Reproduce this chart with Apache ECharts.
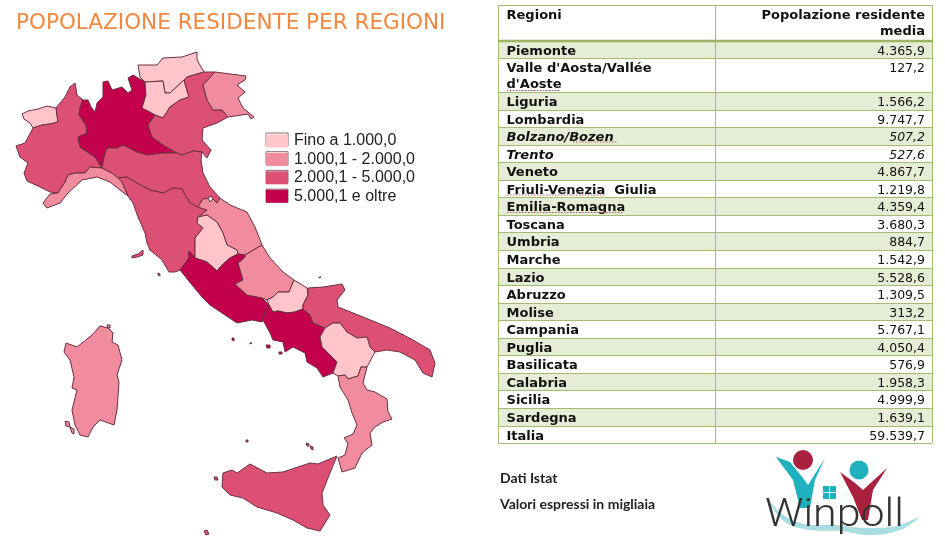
<!DOCTYPE html>
<html>
<head>
<meta charset="utf-8">
<title>Popolazione residente per regioni</title>
<style>html,body{margin:0;padding:0;background:#fff}#chart{width:945px;height:550px}</style>
<script src="https://cdn.jsdelivr.net/npm/echarts@6/dist/echarts.min.js"></script>
</head>
<body>
<div id="chart"></div>
<script>
// dati Istat, valori in migliaia
var regioni = ["Piemonte", "Valle d'Aosta/Vallée d'Aoste", "Liguria", "Lombardia", "Bolzano/Bozen", "Trento",
  "Veneto", "Friuli-Venezia  Giulia", "Emilia-Romagna", "Toscana", "Umbria", "Marche", "Lazio", "Abruzzo",
  "Molise", "Campania", "Puglia", "Basilicata", "Calabria", "Sicilia", "Sardegna", "Italia"];
var popolazione = [4365.9, 127.2, 1566.2, 9747.7, 507.2, 527.6, 4867.7, 1219.8, 4359.4, 3680.3, 884.7, 1542.9,
  5528.6, 1309.5, 313.2, 5767.1, 4050.4, 576.9, 1958.3, 4999.9, 1639.1, 59539.7];
var classi = ["Fino a 1.000,0", "1.000,1 - 2.000,0", "2.000,1 - 5.000,0", "5.000,1 e oltre"];
var sogli = [1000, 2000, 5000];
var coloriClassi = ["#FFC5CA", "#F08C9D", "#DB5073", "#C2004B"];
var corsivi = ["Bolzano/Bozen", "Trento"];

// contorni delle regioni ricalcati dalla carta (x, y sulla pagina)
var contorni = {
  "Valle d'Aosta/Vallée d'Aoste": [[[22,114],[28,111],[38,109],[47,106],[56,108],[58,122],[50,124],[42,125],[33,128],[30,123],[24,119]]],
  "Piemonte": [[[33,128],[42,125],[50,124],[58,122],[56,108],[65,97],[70,87],[75,83],[77,95],[83,100],[80,108],[79,115],[86,125],[87,133],[78,137],[80,147],[95,157],[102,168],[90,167],[85,173],[75,173],[68,175],[65,182],[58,193],[50,192],[40,187],[27,181],[24,173],[28,163],[20,157],[16,146],[25,143]]],
  "Lombardia": [[[83,100],[88,100],[91,107],[95,112],[97,103],[103,97],[103,82],[108,81],[112,90],[122,87],[128,93],[132,90],[128,78],[133,75],[145,82],[146,95],[142,108],[150,112],[155,115],[148,125],[152,137],[163,145],[177,153],[163,153],[147,155],[137,152],[123,145],[117,148],[107,148],[104,157],[102,168],[95,157],[80,147],[78,137],[87,133],[86,125],[79,115],[80,108]]],
  "Bolzano/Bozen": [[[138,65],[157,65],[163,58],[182,57],[197,52],[197,60],[204,72],[187,77],[184,80],[170,93],[165,93],[163,81],[145,82],[140,77]]],
  "Trento": [[[145,82],[163,81],[165,93],[170,93],[184,80],[189,97],[180,100],[170,107],[163,118],[155,115],[150,112],[142,108],[146,95]]],
  "Veneto": [[[184,80],[187,77],[204,72],[215,72],[203,85],[207,100],[213,110],[222,110],[228,117],[217,123],[203,128],[202,140],[211,150],[207,158],[202,152],[193,151],[182,155],[177,153],[163,145],[152,137],[148,125],[155,115],[163,118],[170,107],[180,100],[189,97]]],
  "Friuli-Venezia  Giulia": [[[215,72],[246,76],[245,80],[237,85],[245,92],[238,98],[243,108],[254,117],[251,119],[248,114],[242,115],[228,117],[222,110],[213,110],[207,100],[203,85]]],
  "Liguria": [[[102,168],[90,167],[85,173],[75,173],[68,175],[65,182],[58,193],[50,194],[43,203],[47,208],[60,203],[68,193],[82,180],[97,177],[110,182],[120,190],[128,196],[122,182],[118,178],[112,173]]],
  "Emilia-Romagna": [[[102,168],[104,157],[107,148],[117,148],[123,145],[137,152],[147,155],[163,153],[177,153],[182,155],[193,151],[202,152],[201,160],[203,173],[210,187],[220,198],[217,203],[212,198],[203,199],[198,207],[190,203],[185,195],[182,189],[173,188],[163,193],[150,190],[137,183],[127,177],[118,178],[112,173]]],
  "Toscana": [[[118,178],[127,177],[137,183],[150,190],[163,193],[173,188],[182,189],[185,195],[190,203],[198,207],[207,210],[198,217],[197,223],[203,228],[195,238],[195,258],[193,255],[189,251],[189,258],[180,270],[175,272],[169,272],[162,260],[150,250],[147,243],[145,233],[138,217],[133,203],[128,196],[122,182]],
    [[132,256],[138,254],[143,250],[143,255],[137,257],[132,258]],
    [[158,273],[160,274],[160,276],[158,275]]],
  "Marche": [[[198,207],[203,199],[212,198],[217,203],[220,198],[230,205],[247,212],[255,227],[262,245],[245,255],[238,254],[237,250],[227,245],[223,233],[217,222],[207,215],[198,217],[207,210]]],
  "Umbria": [[[198,217],[207,215],[217,222],[223,233],[227,245],[237,250],[238,254],[230,258],[222,265],[217,271],[207,262],[195,258],[195,238],[203,228],[197,223]]],
  "Lazio": [[[180,270],[189,258],[189,251],[193,255],[195,258],[207,262],[217,271],[222,265],[230,258],[238,254],[245,255],[245,257],[242,260],[238,263],[243,280],[235,284],[247,295],[262,298],[269,305],[265,313],[262,322],[252,320],[237,323],[225,315],[210,305],[202,297],[188,280]],
    [[232,338],[234,338],[234,341],[232,340]]],
  "Abruzzo": [[[238,263],[242,260],[245,257],[245,255],[262,245],[270,258],[283,272],[294,280],[289,292],[278,292],[273,297],[267,300],[262,298],[247,295],[235,284],[243,280]]],
  "Molise": [[[294,280],[307,288],[308,295],[303,305],[303,309],[295,312],[287,313],[278,311],[273,312],[269,305],[267,300],[273,297],[278,292],[289,292]]],
  "Campania": [[[269,305],[273,312],[278,311],[287,313],[295,312],[303,309],[310,315],[313,323],[325,328],[320,337],[322,347],[337,362],[333,373],[323,377],[317,368],[307,362],[305,353],[293,347],[285,352],[283,342],[273,340],[270,333],[263,320],[265,313]],
    [[266,345],[270,345],[270,348],[267,348]],
    [[279,352],[282,352],[282,354],[279,354]],
    [[250,343],[252,343],[252,344],[250,344]]],
  "Puglia": [[[308,288],[323,287],[342,284],[345,290],[337,300],[338,307],[363,317],[390,328],[413,340],[430,350],[435,363],[432,377],[423,373],[415,360],[400,352],[387,350],[375,352],[370,347],[367,337],[357,338],[347,332],[340,323],[333,323],[325,328],[313,323],[310,315],[303,309],[303,305],[308,295]],
    [[319,277],[321,277],[321,278],[319,278]]],
  "Basilicata": [[[325,328],[333,323],[340,323],[347,332],[357,338],[367,337],[370,347],[375,352],[367,367],[361,367],[358,376],[348,379],[345,375],[338,376],[333,373],[337,362],[322,347],[320,337]]],
  "Calabria": [[[338,376],[345,375],[348,379],[358,376],[361,367],[367,367],[363,383],[367,390],[375,392],[387,399],[388,412],[392,419],[383,422],[375,427],[370,433],[372,445],[362,453],[355,468],[342,472],[338,458],[345,455],[348,443],[344,438],[353,434],[357,425],[352,413],[348,400],[340,387]]],
  "Sicilia": [[[222,487],[223,473],[232,470],[237,473],[250,464],[267,473],[283,472],[310,463],[318,464],[337,456],[330,473],[322,493],[323,505],[330,515],[320,531],[307,528],[293,520],[277,513],[257,507],[243,498],[230,495]],
    [[214,477],[217,477],[218,480],[215,480]],
    [[204,531],[207,530],[209,534],[206,535]],
    [[246,440],[248,440],[248,442],[246,442]],
    [[306,443],[309,444],[309,446],[307,446]],
    [[310,446],[313,447],[313,450],[311,449]]],
  "Sardegna": [[[100,326],[108,328],[113,333],[112,342],[118,345],[122,360],[117,375],[119,382],[117,410],[114,425],[100,420],[93,427],[88,437],[80,435],[75,425],[72,410],[77,390],[72,388],[74,377],[70,360],[64,352],[66,343],[77,347],[92,335]],
    [[65,421],[69,422],[70,427],[66,426]],
    [[70,427],[74,429],[74,434],[72,433]],
    [[107,325],[110,325],[110,328],[108,328]]],
  "San Marino": [[[208,198],[211,196],[213,199],[210,202]]]
};

var features = Object.keys(contorni).map(function (nome) {
  return {
    type: "Feature",
    properties: { name: nome },
    geometry: {
      type: "MultiPolygon",
      coordinates: contorni[nome].map(function (anello) {
        return [anello.concat([anello[0]]).map(function (p) { return [p[0], 550 - p[1]]; })];
      })
    }
  };
});
echarts.registerMap("italia", { type: "FeatureCollection", features: features });

function formatta(v) {
  var parti = v.toFixed(1).split(".");
  return parti[0].replace(/\B(?=(\d{3})+$)/g, ".") + "," + parti[1];
}

// tabella
var verde = "#A3BC74";
var xTab = [498, 715, 932];
var fineRighe = [58, 92, 110, 127, 145, 162, 180, 197, 215, 232, 250, 268, 285, 303, 320, 338, 355, 373, 390, 408, 426, 443];
var sottolineati = [[507, 561, 90.5], [573, 618, 142], [507, 605, 195], [507, 624, 212.5]];
var elementi = [];

function linea(x1, y1, x2, y2, colore, spessore, tratto) {
  elementi.push({
    type: "line", silent: true,
    shape: { x1: x1, y1: y1, x2: x2, y2: y2 },
    style: { stroke: colore, lineWidth: spessore, lineDash: tratto || null }
  });
}
function testo(t, x, y, align, font, colore, largo) {
  elementi.push({
    type: "text", silent: true, x: x, y: y, scaleX: largo || 1,
    style: { text: t, font: font, fill: colore || "#111", align: align, verticalAlign: "middle" }
  });
}

regioni.forEach(function (nome, i) {
  var inizio = i ? fineRighe[i - 1] : 41.5;
  if (i % 2 === 0) {
    elementi.push({
      type: "rect", silent: true,
      shape: { x: xTab[0], y: inizio, width: xTab[2] - xTab[0], height: fineRighe[i] - inizio },
      style: { fill: "#E6EDD7" }
    });
  }
});
linea(xTab[0], 5.5, xTab[2], 5.5, verde, 1);
fineRighe.forEach(function (y) { linea(xTab[0], y + 0.5, xTab[2], y + 0.5, verde, 1); });
xTab.forEach(function (x) { linea(x + 0.5, 5, x + 0.5, 443, verde, 1); });
linea(xTab[0], 41, xTab[2] + 1, 41, "#9BB565", 2.5);

var fontBold = "bold 12px 'DejaVu Sans'";
var largoBold = 1.085;
testo("Regioni", 506.5, 15.5, "left", fontBold, null, largoBold);
testo("Popolazione residente", 925, 15.5, "right", fontBold, null, largoBold);
testo("media", 925, 31.5, "right", fontBold, null, largoBold);

regioni.forEach(function (nome, i) {
  var y = (i ? fineRighe[i - 1] : 41.5) + 10.4;
  var corsivo = corsivi.indexOf(nome) >= 0;
  var etichetta = nome.replace("Vallée ", "Vallée\n");
  testo(etichetta, 506.5, y, "left", (corsivo ? "italic " : "") + fontBold, null, largoBold);
  if (etichetta !== nome) {
    // il testo su due righe viene centrato, lo riposiziono
    elementi[elementi.length - 1].y = y + 8;
    elementi[elementi.length - 1].style.lineHeight = 16;
  }
  testo(formatta(popolazione[i]), 925, y, "right", (corsivo ? "italic " : "") + "12.5px 'DejaVu Sans'");
});
sottolineati.forEach(function (s) { linea(s[0], s[2], s[1], s[2], "#C8504A", 1, [1.5, 1.5]); });

// titolo e note
testo("POPOLAZIONE RESIDENTE PER REGIONI", 16, 24, "left", "20.5px 'DejaVu Sans'", "#F4873F", 1.05);
testo("Dati Istat", 500, 478, "left", "bold 14px Lato", "#222");
testo("Valori espressi in migliaia", 500, 504, "left", "bold 14px Lato", "#222");

// contorno dei quadratini di legenda
classi.forEach(function (c, i) {
  elementi.push({
    type: "rect", silent: true,
    shape: { x: 266, y: 133 + i * 18.7, width: 22, height: 13 },
    style: { fill: null, stroke: "#8A6A70", lineWidth: 1 }
  });
});

// logo
elementi.push(
  { type: "polygon", silent: true, shape: { smooth: 0.4, points: [[768,500],[785,522],[810,530],[840,531],[870,535],[900,530],[918,518],[895,526],[865,528],[835,525],[805,524],[785,516]] }, style: { fill: "#A9DDE3" } },
  { type: "polygon", silent: true, shape: { points: [[776,457],[790,462],[803,478],[808,485],[825,458],[815,480],[810,508],[800,508],[793,480]] }, style: { fill: "#1FB1BE" } },
  { type: "circle", silent: true, shape: { cx: 803, cy: 460, r: 10 }, style: { fill: "#A9213F" } },
  { type: "polygon", silent: true, shape: { points: [[840,472],[855,483],[863,490],[887,468],[873,490],[868,520],[862,520],[853,497]] }, style: { fill: "#A9213F" } },
  { type: "circle", silent: true, shape: { cx: 859, cy: 470, r: 9.5 }, style: { fill: "#1FB1BE" } }
);
[[823, 486], [830, 486], [823, 493], [830, 493]].forEach(function (p) {
  elementi.push({ type: "rect", silent: true, shape: { x: p[0], y: p[1], width: 6, height: 6 }, style: { fill: "#1FB1BE" } });
});
elementi.push({
  type: "text", silent: true, x: 765, y: 535, scaleX: 1.3, scaleY: 1.15,
  style: { text: "Winpoll", font: "300 33px Roboto", fill: "#333", align: "left", verticalAlign: "bottom" }
});

var chart = echarts.init(document.getElementById("chart"));
chart.setOption({
  animation: false,
  visualMap: {
    type: "piecewise",
    left: 266, top: 133,
    padding: 0,
    orient: "vertical",
    inverse: true,
    selectedMode: false,
    hoverLink: false,
    itemWidth: 22, itemHeight: 13, itemGap: 2.4, itemSymbol: "rect",
    textGap: 6,
    textStyle: { color: "#222", fontSize: 16, fontFamily: "'Liberation Sans'" },
    pieces: [
      { lte: sogli[0], label: classi[0], color: coloriClassi[0] },
      { gt: sogli[0], lte: sogli[1], label: classi[1], color: coloriClassi[1] },
      { gt: sogli[1], lte: sogli[2], label: classi[2], color: coloriClassi[2] },
      { gt: sogli[2], label: classi[3], color: coloriClassi[3] }
    ]
  },
  series: [{
    type: "map",
    map: "italia",
    silent: true,
    left: 0, top: 0, width: 945, height: 550,
    aspectScale: 1,
    boundingCoords: [[0, 550], [945, 0]],
    roam: false,
    label: { show: false },
    itemStyle: { areaColor: "#fff", borderColor: "#6A2F42", borderWidth: 1 },
    data: regioni.slice(0, -1).map(function (nome, i) { return { name: nome, value: popolazione[i] }; })
  }],
  graphic: { elements: elementi }
});
</script>
</body>
</html>
